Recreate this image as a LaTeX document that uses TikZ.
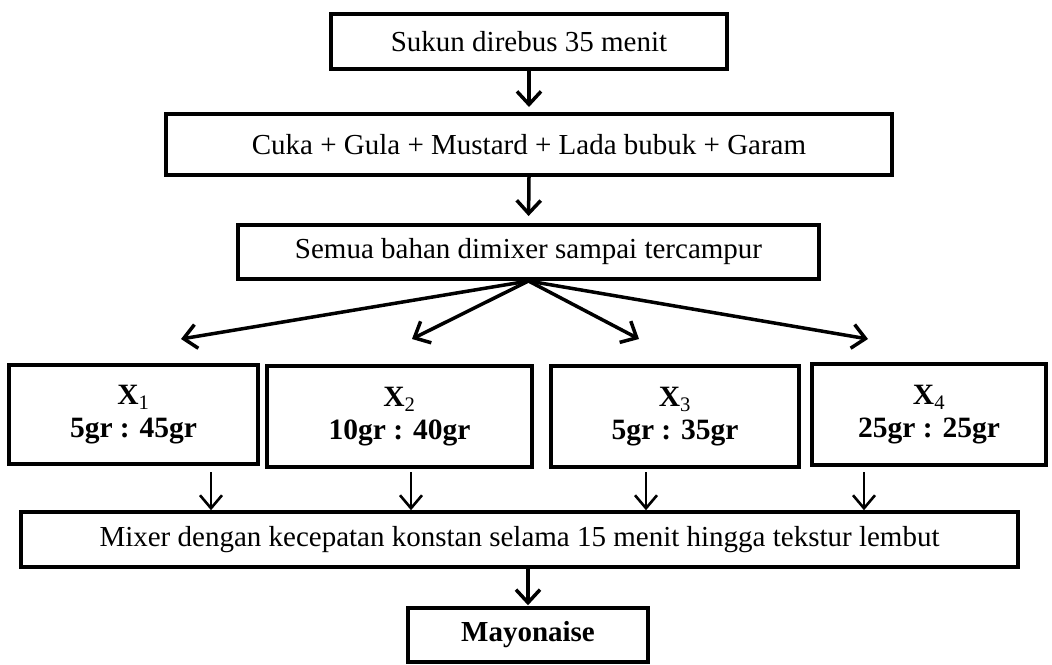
\documentclass[tikz,border=0pt]{standalone}
\usepackage{fontspec}
\setmainfont{Liberation Serif}
\usetikzlibrary{arrows.meta}
\begin{document}
\begin{tikzpicture}[x=1pt,y=-1pt,
  box/.style={draw, line width=4pt, inner sep=0pt, align=center, font=\fontsize{29}{33}\selectfont},
  thinbox/.style={box, line width=3.5pt},
  bbox/.style={box, font=\fontsize{29.5}{33}\selectfont\bfseries},
  arr/.style={line width=3.5pt, -{Straight Barb[length=13pt,width=24pt,line width=3.5pt]}},
  sarr/.style={line width=2.6pt, -{Straight Barb[length=13pt,width=22pt,line width=2.6pt]}}
]
\useasboundingbox (0,0) rectangle (1052,664);
\node[box, minimum width=396pt, minimum height=55pt] (b1) at (529,41.5) {Sukun direbus 35 menit};
\node[box, minimum width=726pt, minimum height=61pt] (b2) at (529,144.5) {Cuka + Gula + Mustard + Lada bubuk + Garam};
\node[box, minimum width=581pt, minimum height=54pt] (b3) at (528.5,252) {Semua bahan dimixer sampai tercampur};
\node[bbox, minimum width=249pt, minimum height=99pt] (x1) at (133.5,414.5) {X\textsubscript{\mdseries 1}\\5gr : 45gr};
\node[bbox, minimum width=265pt, minimum height=101pt] (x2) at (399.5,416.5) {X\textsubscript{\mdseries 2}\\10gr : 40gr};
\node[bbox, minimum width=248pt, minimum height=101pt] (x3) at (675,416.5) {X\textsubscript{\mdseries 3}\\5gr : 35gr};
\node[bbox, minimum width=234pt, minimum height=101pt] (x4) at (929,414.5) {X\textsubscript{\mdseries 4}\\25gr : 25gr};
\node[thinbox, minimum width=997pt, minimum height=55pt] (mix) at (519.5,539.5) {Mixer dengan kecepatan konstan selama 15 menit hingga tekstur lembut};
\node[thinbox, font=\fontsize{29}{33}\selectfont\bfseries, minimum width=240pt, minimum height=54pt] (mayo) at (528,635) {Mayonaise};
\draw[arr, shorten >=5pt] (b1.south) -- (b2.north);
\draw[arr, shorten >=7pt] (b2.south) -- (b3.north);
\coordinate (t1) at (181,339);
\coordinate (t2) at (412,339);
\coordinate (t3) at (639,339);
\coordinate (t4) at (868,339);
\foreach \t in {t1,t2,t3,t4} \draw[arr] (b3.south) -- (\t);
\coordinate (d1) at (211,472);
\coordinate (d2) at (411,472);
\coordinate (d3) at (646,472);
\coordinate (d4) at (864,472);
\foreach \d in {d1,d2,d3,d4} \draw[sarr] (\d) -- (\d |- mix.north);
\draw[arr, shorten >=1pt] (mix.south -| mayo.north) -- (mayo.north);
\end{tikzpicture}
\end{document}
